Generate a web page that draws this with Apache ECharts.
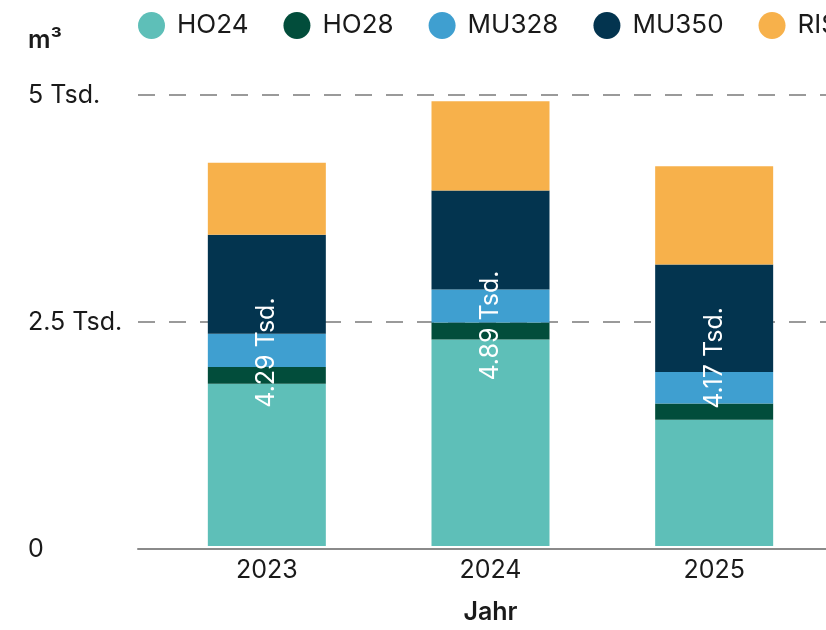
<!DOCTYPE html>
<html>
<head>
<meta charset="utf-8">
<script src="https://cdn.jsdelivr.net/npm/echarts@6/dist/echarts.min.js"></script>
<style>html,body{margin:0;padding:0;background:#fff}#c{width:826px;height:630px}</style>
</head>
<body>
<div id="c"></div>
<script>
// Data (m³)
const categories = ['2023', '2024', '2025'];
const seriesNames = ['HO24', 'HO28', 'MU328', 'MU350', 'RIS'];
const HO24 = [1800, 2290, 1400];
const HO28 = [185, 187, 180];
const MU328 = [367, 367, 350];
const MU350 = [1098, 1098, 1190];
const RIS = [800, 990, 1090];
const totalLabels = [4290, 4890, 4170];
const yTicks = [0, 2500, 5000];

const colors = ['#5ebfb8', '#024d3b', '#3f9fd0', '#03344f', '#f7b14b'];
const values = [HO24, HO28, MU328, MU350, RIS];
const FONT = 'Inter, "Noto Sans", sans-serif';

function fmtTsd(v) {
  if (v === 0) return '0';
  return String(Math.round(v / 10) / 100).replace(/\.?0+$/, '') + ' Tsd.';
}

const chart = echarts.init(document.getElementById('c'), null, {renderer: 'canvas'});

const stackSeries = seriesNames.map((n, i) => ({
  name: n,
  type: 'bar',
  stack: 'total',
  xAxisIndex: 1,
  yAxisIndex: 1,
  barWidth: 118,
  barGap: '-100%',
  itemStyle: {color: colors[i]},
  emphasis: {disabled: true},
  data: values[i]
}));

const labelSeries = {
  name: 'total',
  type: 'bar',
  xAxisIndex: 1,
  yAxisIndex: 1,
  barWidth: 118,
  barGap: '-100%',
  itemStyle: {color: 'rgba(0,0,0,0)'},
  emphasis: {disabled: true},
  z: 10,
  label: {
    show: true,
    position: 'inside',
    rotate: 90,
    color: '#ffffff',
    fontFamily: FONT,
    fontSize: 25,
    formatter: p => fmtTsd(p.value)
  },
  data: totalLabels
};

chart.setOption({
  animation: false,
  textStyle: {fontFamily: FONT},
  title: {
    text: 'm³',
    left: 28,
    top: 28,
    padding: 0,
    textStyle: {fontFamily: FONT, fontSize: 25, fontWeight: 600, color: '#1a1a1a'}
  },
  legend: {
    data: seriesNames,
    left: 138,
    top: 12,
    width: 1200,
    padding: 0,
    icon: 'circle',
    itemWidth: 27,
    itemHeight: 27,
    itemGap: 35,
    textStyle: {fontFamily: FONT, fontSize: 26, color: '#1a1a1a', padding: [0, 0, 0, 7]}
  },
  grid: [
    {left: 138, right: 0, top: 95, bottom: 81, containLabel: false},
    {left: 155, right: -4, top: 95, bottom: 81, containLabel: false}
  ],
  xAxis: [
    {
      gridIndex: 0,
      type: 'category',
      data: categories,
      axisLine: {show: true, lineStyle: {color: '#8a8a8a', width: 2}},
      axisTick: {show: false},
      axisLabel: {show: false},
      splitLine: {show: false}
    },
    {
      gridIndex: 1,
      type: 'category',
      data: categories,
      axisLine: {show: false},
      axisTick: {show: false},
      axisLabel: {fontFamily: FONT, fontSize: 25, color: '#1a1a1a', margin: 12},
      name: 'Jahr',
      nameLocation: 'middle',
      nameGap: 54,
      nameTextStyle: {fontFamily: FONT, fontSize: 25, fontWeight: 600, color: '#1a1a1a'}
    }
  ],
  yAxis: [
    {
      gridIndex: 0,
      type: 'value',
      min: 0,
      max: 5000,
      interval: 2500,
      axisLine: {show: false},
      axisTick: {show: false},
      axisLabel: {
        align: 'left',
        margin: 110,
        fontFamily: FONT,
        fontSize: 25,
        color: '#1a1a1a',
        formatter: v => yTicks.includes(v) ? fmtTsd(v) : ''
      },
      splitLine: {show: true, lineStyle: {color: '#7a7a7a', width: 1.5, type: [17, 14]}}
    },
    {
      gridIndex: 1,
      type: 'value',
      min: 0,
      max: 5000,
      interval: 2500,
      show: false,
      splitLine: {show: false}
    }
  ],
  series: stackSeries.concat([labelSeries])
});
</script>
</body>
</html>
